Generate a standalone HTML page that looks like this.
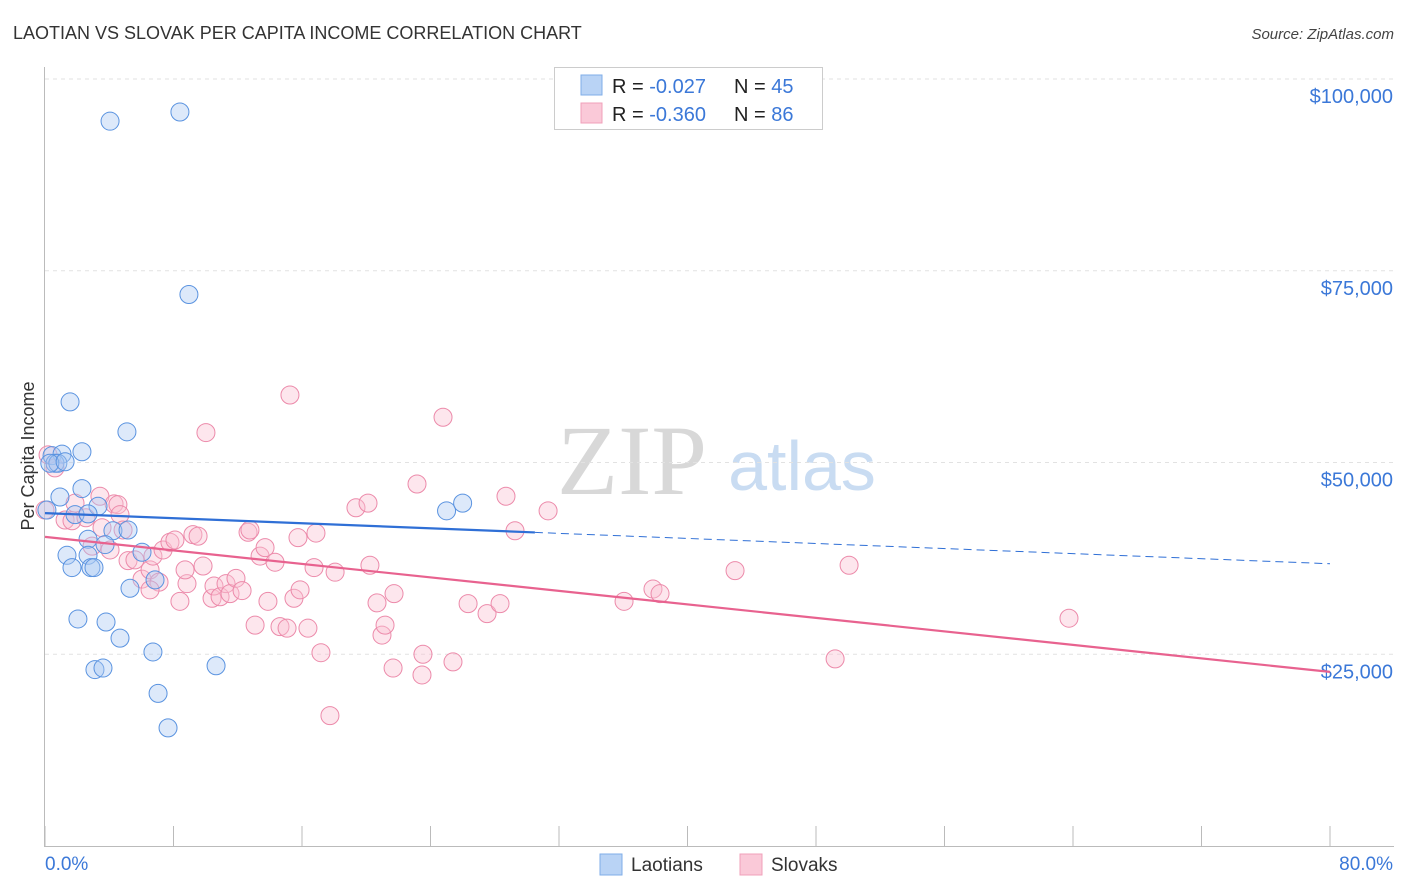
<!DOCTYPE html>
<html><head><meta charset="utf-8"><style>
body{margin:0;background:#fff;font-family:"Liberation Sans",sans-serif}
svg{display:block}
</style></head><body>
<svg id="c" width="1406" height="892" xmlns="http://www.w3.org/2000/svg">
<text x="13" y="39" font-size="18" fill="#333">LAOTIAN VS SLOVAK PER CAPITA INCOME CORRELATION CHART</text>
<text x="1394" y="39" font-size="15" fill="#444" font-style="italic" text-anchor="end">Source: ZipAtlas.com</text>
<text x="632" y="494" font-size="100" fill="#d8d8d8" font-family="Liberation Serif,serif" text-anchor="middle">ZIP</text>
<text x="802" y="490" font-size="70" fill="#c9dcf2" text-anchor="middle">atlas</text>
<text transform="translate(34,456) rotate(-90)" font-size="18" fill="#333" text-anchor="middle">Per Capita Income</text>
<g id="grid"></g><g id="marks"></g>
<g>
<rect x="554.5" y="67.5" width="268" height="62" fill="#fff" stroke="#ccc"/>
<rect x="581" y="75" width="21" height="20" fill="#b9d3f5" stroke="#7faee8"/>
<rect x="581" y="103" width="21" height="20" fill="#fac9d8" stroke="#f0a0ba"/>
<text x="612" y="93" font-size="20" fill="#222">R = <tspan fill="#3b78d8">-0.027</tspan><tspan x="734">N = </tspan><tspan fill="#3b78d8">45</tspan></text>
<text x="612" y="121" font-size="20" fill="#222">R = <tspan fill="#3b78d8">-0.360</tspan><tspan x="734">N = </tspan><tspan fill="#3b78d8">86</tspan></text>
</g>
<g>
<rect x="600" y="854" width="22" height="21" fill="#b9d3f5" stroke="#7faee8"/>
<text x="631" y="871" font-size="19" fill="#333">Laotians</text>
<rect x="740" y="854" width="22" height="21" fill="#fac9d8" stroke="#f0a0ba"/>
<text x="771" y="871" font-size="19" fill="#333">Slovaks</text>
</g>
</svg>
<script>
const yTicks=[25000,50000,75000,100000];
const yTickLabels=["$25,000","$50,000","$75,000","$100,000"];
const xTickLabels=["0.0%","80.0%"];
const laoX=[4.05,8.4,8.96,1.56,5.1,2.3,0.44,1.06,0.62,0.8,0.3,1.25,2.3,0.93,3.3,1.87,2.68,4.23,5.17,2.68,3.74,1.37,2.68,1.68,2.86,3.05,5.29,6.04,6.85,2.05,3.8,4.67,6.72,3.11,3.61,7.04,7.66,10.65,25.0,26.0,0.12];
const laoY=[94.5,95.7,71.9,57.9,54.0,51.4,50.9,51.1,49.9,49.9,49.9,50.1,46.6,45.5,44.3,43.2,43.3,41.1,41.2,40.0,39.3,37.9,37.9,36.3,36.3,36.3,33.6,38.3,34.7,29.6,29.2,27.1,25.3,23.0,23.2,19.9,15.4,23.5,43.7,44.7,43.8];
const slovX=[15.25,24.78,10.02,0.19,0.62,3.42,4.3,4.54,1.87,4.67,1.25,1.68,2.55,3.55,4.86,2.93,5.17,5.6,6.04,6.54,6.72,7.1,7.35,7.78,8.09,8.4,8.84,9.21,9.53,8.72,9.84,10.4,10.52,10.9,11.27,11.52,11.89,12.27,12.64,12.76,13.08,13.39,13.7,13.88,14.32,14.63,15.07,15.5,15.88,15.75,16.37,16.87,16.75,17.18,18.06,17.74,19.36,20.11,20.23,20.67,20.98,21.17,21.67,21.73,23.16,23.53,23.47,25.4,26.34,27.52,28.33,28.7,29.26,31.32,36.05,37.85,38.29,42.96,49.19,50.06,63.75,0,4.05,6.54];
const slovY=[58.8,55.9,53.9,51.0,49.3,45.6,44.6,44.5,44.7,43.2,42.5,42.4,42.8,41.5,41.2,39.1,37.2,37.3,34.8,36.0,37.8,34.4,38.6,39.6,39.9,31.9,34.2,40.6,40.4,36.0,36.5,32.3,33.9,32.5,34.2,32.9,34.9,33.3,40.9,41.2,28.8,37.8,38.9,31.9,37.0,28.6,28.4,32.3,33.4,40.2,28.4,40.8,36.3,25.2,35.7,17.0,44.1,44.7,36.6,31.7,27.5,28.8,23.2,32.9,47.2,25.0,22.3,24.0,31.6,30.3,31.6,45.6,41.1,43.7,31.9,33.5,32.9,35.9,24.4,36.6,29.7,43.8,38.6,33.4];
const laoTrend=[43.4,36.8]; const laoSolidEnd=30.5;
const slovTrend=[40.3,22.7];
const X=v=>45+v/80*1285, Y=v=>846-v/100000*767;
const NS="http://www.w3.org/2000/svg";
function mk(t,a,p){const e=document.createElementNS(NS,t);for(const k in a)e.setAttribute(k,a[k]);p.appendChild(e);return e;}
const g=document.getElementById('grid'), m=document.getElementById('marks');
const ax=mk('line',{x1:44.5,y1:67,x2:44.5,y2:846,stroke:'#bbb'},g);


const bx=mk('line',{x1:44,y1:846.5,x2:1394,y2:846.5,stroke:'#bbb'},g);


yTicks.forEach((v,i)=>{
 const l=mk('line',{x1:45,y1:Y(v),x2:1394,y2:Y(v),stroke:'#e2e2e2','stroke-dasharray':'4,4'},g);
 
 
 const t=mk('text',{x:1393,y:Y(v)+24,'font-size':20,fill:'#3b78d8','text-anchor':'end'},g);t.textContent=yTickLabels[i];
 
 
});
const t2=mk('line',{x1:45,y1:79,x2:1394,y2:79,stroke:'#e2e2e2','stroke-dasharray':'4,4'},g);
for(let i=0;i<=10;i++){const tk=mk('line',{x1:X(i*8),y1:826,x2:X(i*8),y2:846,stroke:'#bbb'},g);
 
 }
[[0,'start',45],[1,'end',1393]].forEach(([i,a,x])=>{const t=mk('text',{x:x,y:870,'font-size':19,fill:'#3b78d8','text-anchor':a},g);t.textContent=xTickLabels[i];
 
 });
function pts(xs,ys,fill,stroke,name){xs.forEach((x,i)=>{const c=mk('circle',{cx:X(x),cy:Y(ys[i]*1000),r:9,fill:fill,'fill-opacity':0.4,stroke:stroke,'stroke-width':1},m);
 
 });}
pts(slovX,slovY,'#fac0d2','#ec8aaa','slovak-point');
pts(laoX,laoY,'#a9c9f2','#5a93e0','laotian-point');
const ly=x=>laoTrend[0]+(laoTrend[1]-laoTrend[0])*x/80;
let l1=mk('line',{x1:X(0),y1:Y(ly(0)*1000),x2:X(laoSolidEnd),y2:Y(ly(laoSolidEnd)*1000),stroke:'#2f6fd6','stroke-width':2.2},m);


let l2=mk('line',{x1:X(laoSolidEnd),y1:Y(ly(laoSolidEnd)*1000),x2:X(80),y2:Y(ly(80)*1000),stroke:'#2f6fd6','stroke-width':1,'stroke-dasharray':'8,5'},m);


let l3=mk('line',{x1:X(0),y1:Y(slovTrend[0]*1000),x2:X(80),y2:Y(slovTrend[1]*1000),stroke:'#e8628f','stroke-width':2.2},m);


</script>
</body></html>
